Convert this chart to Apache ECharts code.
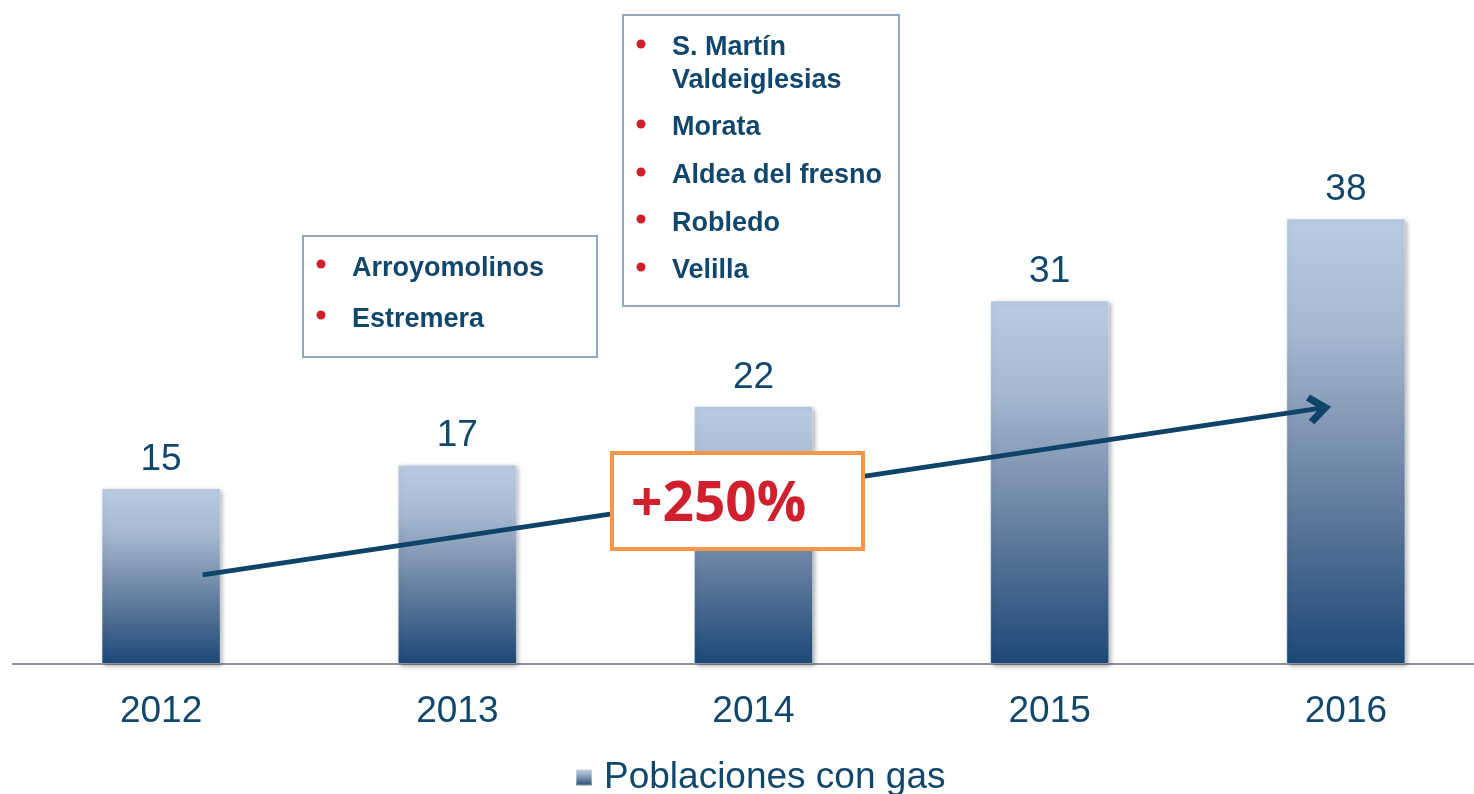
<!DOCTYPE html>
<html>
<head>
<meta charset="utf-8">
<script src="https://cdn.jsdelivr.net/npm/echarts@6/dist/echarts.min.js"></script>
<style>
html, body { margin: 0; padding: 0; background: #fff; }
#main { width: 1474px; height: 794px; }
</style>
</head>
<body>
<div id="main"></div>
<script>
// 数据
var years = ['2012', '2013', '2014', '2015', '2016'];
var poblaciones = [15, 17, 22, 31, 38];
var grupo1 = ['Arroyomolinos', 'Estremera'];
var grupo2 = ['S. Martín\nValdeiglesias', 'Morata', 'Aldea del fresno', 'Robledo', 'Velilla'];
var crecimiento = '+250%';

var textColor = '#11466d';
var red = '#d0202e';
var fontFam = 'Liberation Sans';

// 文本框
function listBox(items, x, y, w, h, dotY, textY) {
    var children = [{
        type: 'rect',
        z: 100,
        shape: {x: x, y: y, width: w, height: h},
        style: {fill: '#fff', stroke: '#91a6b9', lineWidth: 2}
    }];
    items.forEach(function (t, i) {
        children.push({
            type: 'circle',
            z: 101,
            shape: {cx: x + 18, cy: dotY[i], r: 4.5},
            style: {fill: red}
        });
        children.push({
            type: 'text',
            z: 101,
            x: x + 49,
            y: textY[i],
            style: {
                text: t,
                fill: textColor,
                fontFamily: fontFam,
                fontWeight: 'bold',
                fontSize: 27,
                verticalAlign: 'middle',
                lineHeight: 33
            }
        });
    });
    return {type: 'group', children: children};
}

var myChart = echarts.init(document.getElementById('main'));

var option = {
    animation: false,
    grid: {left: 13, width: 1481, top: 195, bottom: 130, outerBoundsMode: 'none', containLabel: false},
    legend: {
        data: ['Poblaciones con gas'],
        top: 754,
        left: 570,
        icon: 'rect',
        itemWidth: 16,
        itemHeight: 16,
        itemGap: 8,
        textStyle: {color: textColor, fontSize: 37, fontFamily: fontFam, padding: [0, 0, 0, 7]}
    },
    xAxis: [
        {
            type: 'category',
            data: years,
            axisLine: {lineStyle: {color: '#8a939f', width: 2}},
            axisTick: {show: false},
            axisLabel: {
                color: textColor,
                fontSize: 37,
                margin: 29,
                fontFamily: fontFam
            }
        },
        {
            type: 'value',
            min: -0.5,
            max: 4.5,
            show: false
        }
    ],
    yAxis: {
        type: 'value',
        min: 0,
        max: 40,
        show: false
    },
    series: [
        {
            name: 'Poblaciones con gas',
            type: 'bar',
            data: poblaciones,
            barWidth: 119,
            itemStyle: {
                color: new echarts.graphic.LinearGradient(0, 0, 0, 1, [
                    {offset: 0, color: '#bacbe2'},
                    {offset: 0.25, color: '#a7b9d1'},
                    {offset: 0.6, color: '#6a82a3'},
                    {offset: 1, color: '#1c4877'}
                ]),
                borderColor: 'rgba(255,255,255,0.35)',
                borderWidth: 1,
                shadowColor: 'rgba(0,0,0,0.35)',
                shadowBlur: 5,
                shadowOffsetX: 2,
                shadowOffsetY: 2
            },
            label: {
                show: true,
                position: 'top',
                distance: 10,
                color: textColor,
                fontSize: 37,
                fontFamily: fontFam
            }
        },
        {
            // 增长箭头
            name: 'arrow',
            type: 'line',
            xAxisIndex: 1,
            data: [],
            z: 5,
            markLine: {
                silent: true,
                symbol: ['none', 'path://M0,12 L10,0 L20,12 L16.5,15 L10,7.5 L3.5,15 Z'],
                symbolSize: [30, 24],
                label: {show: false},
                lineStyle: {color: '#0f4468', width: 5, type: 'solid'},
                data: [[
                    {coord: [0.14, 7.6]},
                    {coord: [3.91, 21.8]}
                ]]
            }
        }
    ],
    graphic: [
        listBox(grupo1, 303, 236, 294, 121, [264, 315], [269, 320]),
        listBox(grupo2, 623, 15, 276, 291, [44, 124, 172, 219, 267], [64, 128, 176, 224, 271]),
        {
            type: 'group',
            children: [
                {
                    type: 'rect',
                    z: 100,
                    shape: {x: 612, y: 453, width: 251, height: 96},
                    style: {fill: '#fff', stroke: '#f79646', lineWidth: 4}
                },
                {
                    type: 'text',
                    z: 101,
                    x: 631,
                    y: 505,
                    style: {
                        text: crecimiento,
                        fill: red,
                        fontFamily: 'Open Sans',
                        fontWeight: 'bold',
                        fontSize: 55,
                        verticalAlign: 'middle'
                    }
                }
            ]
        }
    ]
};

myChart.setOption(option);
</script>
</body>
</html>
